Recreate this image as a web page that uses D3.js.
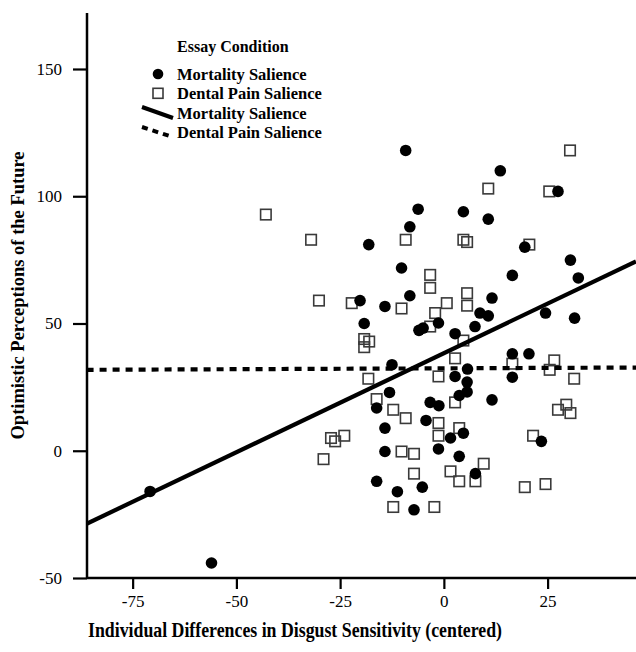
<!DOCTYPE html>
<html><head><meta charset="utf-8">
<script src="https://cdn.jsdelivr.net/npm/d3@7"></script>
<style>body{margin:0;background:#fff}svg{display:block}</style>
</head><body>
<svg id="c" width="636" height="652"></svg>
<script>
// Mortality Salience (filled circles)
const msX = [-9.2,13.6,27.5,-6.2,4.7,10.7,-8.2,-18.1,19.5,30.5,-10.2,16.5,32.4,-8.2,11.6,-20.2,-14.2,8.7,10.7,24.5,31.5,-19.2,-1.3,-6.0,-5.0,7.5,2.7,16.5,20.5,16.5,2.7,5.7,5.6,-12.5,-13.1,5.6,3.7,11.6,-16.2,-3.3,-1.2,-4.3,4.7,1.6,-14.2,23.5,-14.2,-1.3,3.7,7.6,-16.2,-5.2,-11.2,-7.2,-70.8,-56.0];
const msY = [118.0,110.0,101.9,94.9,93.9,91.0,88.0,81.0,80.0,74.9,71.8,68.9,67.9,60.9,60.0,59.0,56.7,54.1,53.0,54.1,52.1,50.0,50.2,47.3,48.2,48.8,46.0,38.1,38.1,28.9,29.2,32.1,27.0,33.8,22.9,23.1,21.7,20.0,16.8,19.0,17.7,11.9,6.9,5.0,8.9,3.7,-0.3,0.7,-2.2,-9.0,-12.0,-14.3,-16.1,-23.2,-16.0,-44.1];
// Dental Pain Salience (open squares)
const dpX = [30.4,10.7,25.4,-9.2,4.7,5.6,20.6,-3.3,-3.3,5.6,-22.2,-10.2,0.7,5.6,-2.1,-42.9,-32.0,-30.1,-19.2,-18.0,-19.2,-18.2,-3.3,4.7,2.7,16.5,26.6,25.5,31.4,-1.3,-16.2,2.7,-12.2,-9.2,-1.3,3.7,-1.3,21.5,-10.2,-7.2,9.6,1.6,-7.2,3.7,7.6,19.5,24.5,-12.2,-2.3,27.5,29.5,30.5,-27.2,-26.2,-24.0,-29.0];
const dpY = [118.0,103.0,101.9,82.9,82.9,82.0,81.0,69.1,64.0,61.9,58.0,55.9,58.0,57.0,54.1,92.8,82.9,59.0,43.9,42.9,40.7,28.3,48.8,43.3,36.3,34.2,35.5,31.8,28.3,29.2,20.3,19.0,16.1,12.8,10.9,8.9,5.9,5.9,-0.3,-1.2,-5.1,-8.1,-9.0,-12.0,-12.0,-14.3,-13.1,-22.1,-22.1,16.1,18.1,14.8,5.0,3.7,5.9,-3.3];
// Fit lines (endpoints)
const msFitX = [-86.1, 46.3];
const msFitY = [-28.7, 74.4];
const dpFitX = [-86.1, 46.3];
const dpFitY = [31.8, 32.7];
const xTicks = [-75,-50,-25,0,25];
const yTicks = [-50,0,50,100,150];
const xDomain = [-86.0, 46.3];
const yDomain = [-50, 172];
const legendTitle = "Essay Condition";
const legendLabels = ["Mortality Salience","Dental Pain Salience","Mortality Salience","Dental Pain Salience"];
const xTitle = "Individual Differences in Disgust Sensitivity (centered)";
const yTitle = "Optimistic Perceptions of the Future";

const FONT = "'Liberation Serif','Times New Roman',serif";
const svg = d3.select("#c");
const L = 87, R = 636, T = 13, B = 578;
const x = d3.scaleLinear().domain(xDomain).range([L, R]);
const y = d3.scaleLinear().domain(yDomain).range([B, T]);

const defs = svg.append("defs");
defs.append("clipPath").attr("id","clip").append("rect")
  .attr("x", L).attr("y", T).attr("width", R - L).attr("height", B - T);

const plot = svg.append("g").attr("clip-path","url(#clip)");
const sq = 10.5;
plot.selectAll("rect.dp").data(dpX.map((d,i)=>[d,dpY[i]])).join("rect")
  .attr("class","dp")
  .attr("x", d => x(d[0]) - sq/2).attr("y", d => y(d[1]) - sq/2)
  .attr("width", sq).attr("height", sq)
  .attr("fill","none").attr("stroke","#3a3a3a").attr("stroke-width",1.6);
plot.selectAll("circle.ms").data(msX.map((d,i)=>[d,msY[i]])).join("circle")
  .attr("class","ms")
  .attr("cx", d => x(d[0])).attr("cy", d => y(d[1])).attr("r", 5.8)
  .attr("fill","#000");

const line = d3.line().x(d => x(d[0])).y(d => y(d[1]));
plot.append("path").datum(msFitX.map((d,i)=>[d,msFitY[i]]))
  .attr("d", line).attr("stroke","#000").attr("stroke-width",4.2).attr("fill","none");
plot.append("path").datum(dpFitX.map((d,i)=>[d,dpFitY[i]]))
  .attr("d", line).attr("stroke","#000").attr("stroke-width",4.2).attr("fill","none")
  .attr("stroke-dasharray","7,6");

// axes
const gx = svg.append("g").attr("transform",`translate(0,${B})`)
  .call(d3.axisBottom(x).tickValues(xTicks).tickFormat(d=>String(d)).tickSize(11).tickPadding(6).tickSizeOuter(0));
const gy = svg.append("g").attr("transform",`translate(${L},0)`)
  .call(d3.axisLeft(y).tickValues(yTicks).tickFormat(d=>String(d)).tickSize(14).tickPadding(11).tickSizeOuter(0));
[gx, gy].forEach(g => {
  g.select(".domain").attr("stroke","#000").attr("stroke-width",2.5);
  g.selectAll(".tick line").attr("stroke","#000").attr("stroke-width",2.2);
  g.selectAll(".tick text").attr("fill","#000").style("font-family",FONT).style("font-size","17px");
});
gx.select(".domain").attr("d", `M${L},0H${R}`);
gy.select(".domain").attr("d", `M0,${T}V${B}`);

// titles
svg.append("text").attr("x", 295).attr("y", 637).attr("text-anchor","middle")
  .attr("textLength", 414).attr("lengthAdjust","spacingAndGlyphs")
  .style("font-family",FONT).style("font-size","20px").style("font-weight","bold").text(xTitle);
svg.append("text").attr("transform",`translate(24,${(T+B)/2}) rotate(-90)`).attr("text-anchor","middle")
  .style("font-family",FONT).style("font-size","18.5px").style("font-weight","bold").text(yTitle);

// legend
const lg = svg.append("g");
const lx = 177;
lg.append("text").attr("x", lx).attr("y", 52).style("font-family",FONT).style("font-size","16px")
  .style("font-weight","bold").text(legendTitle);
const rows = [74, 93.3, 113, 132.5];
rows.forEach((ry,i) => {
  lg.append("text").attr("x", lx).attr("y", ry).attr("dominant-baseline","central")
    .style("font-family",FONT).style("font-size","16.5px").style("font-weight","bold").text(legendLabels[i]);
});
lg.append("circle").attr("cx",158).attr("cy",rows[0]).attr("r",5.3).attr("fill","#000");
lg.append("rect").attr("x",158-5).attr("y",rows[1]-5).attr("width",10).attr("height",10)
  .attr("fill","none").attr("stroke","#3a3a3a").attr("stroke-width",1.6);
lg.append("line").attr("x1",142).attr("y1",rows[2]-6).attr("x2",173).attr("y2",rows[2]+5)
  .attr("stroke","#000").attr("stroke-width",4);
lg.append("line").attr("x1",142).attr("y1",rows[3]-5.5).attr("x2",171).attr("y2",rows[3]+4)
  .attr("stroke","#000").attr("stroke-width",4).attr("stroke-dasharray","6,5");
</script>
</body></html>
